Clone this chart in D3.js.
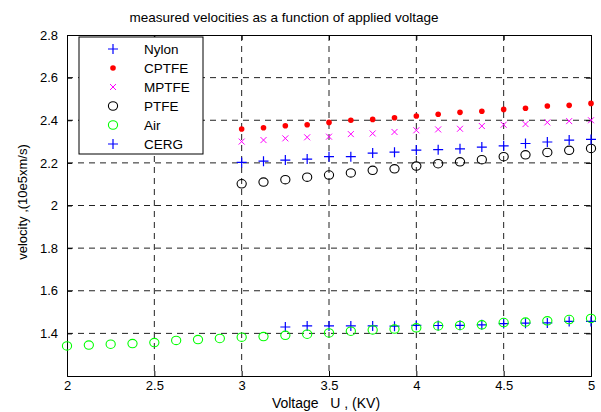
<!DOCTYPE html>
<html>
<head>
<meta charset="utf-8">
<script src="https://cdn.jsdelivr.net/npm/d3@7"></script>
<style>
  body { margin: 0; background: #fff; }
  svg text { font-family: "Liberation Sans", Arial, sans-serif; }
</style>
</head>
<body>
<div id="chart"></div>
<script>
// measured velocities vs applied voltage

var voltsLow = [2, 2.125, 2.25, 2.375, 2.5, 2.625, 2.75, 2.875, 3, 3.125, 3.25, 3.375, 3.5,
                3.625, 3.75, 3.875, 4, 4.125, 4.25, 4.375, 4.5, 4.625, 4.75, 4.875, 5];
var volts = [3, 3.125, 3.25, 3.375, 3.5, 3.625, 3.75, 3.875, 4, 4.125, 4.25, 4.375, 4.5,
             4.625, 4.75, 4.875, 5];
var voltsCerg = [3.25, 3.375, 3.5, 3.625, 3.75, 3.875, 4, 4.125, 4.25, 4.375, 4.5,
                 4.625, 4.75, 4.875, 5];

var nylon = [2.202, 2.208, 2.213, 2.218, 2.229, 2.229, 2.246, 2.25, 2.26, 2.262, 2.266,
             2.274, 2.28, 2.291, 2.298, 2.307, 2.31];
var cptfe = [2.359, 2.365, 2.374, 2.379, 2.39, 2.40, 2.404, 2.412, 2.42, 2.428, 2.437,
             2.442, 2.451, 2.456, 2.467, 2.47, 2.479];
var mptfe = [2.30, 2.307, 2.315, 2.32, 2.323, 2.335, 2.338, 2.345, 2.353, 2.357, 2.36,
             2.373, 2.379, 2.382, 2.39, 2.396, 2.40];
var ptfe = [2.102, 2.11, 2.121, 2.133, 2.143, 2.153, 2.165, 2.172, 2.185, 2.196, 2.205,
            2.215, 2.229, 2.238, 2.249, 2.259, 2.268];
var air = [1.341, 1.345, 1.349, 1.352, 1.357, 1.367, 1.371, 1.376, 1.382, 1.385, 1.391,
           1.396, 1.402, 1.41, 1.416, 1.42, 1.426, 1.435, 1.437, 1.44, 1.451, 1.453,
           1.459, 1.465, 1.47];
var cerg = [1.43, 1.435, 1.435, 1.435, 1.435, 1.434, 1.438, 1.437, 1.438, 1.44, 1.446,
            1.448, 1.449, 1.456, 1.456];

var xTicks = [2, 2.5, 3, 3.5, 4, 4.5, 5];
var yTicks = [1.4, 1.6, 1.8, 2, 2.2, 2.4, 2.6, 2.8];

var series = [
  {name: "Nylon", x: volts, y: nylon, mark: "plus", color: "#0000ff"},
  {name: "CPTFE", x: volts, y: cptfe, mark: "dot", color: "#ff0000"},
  {name: "MPTFE", x: volts, y: mptfe, mark: "cross", color: "#ff00ff"},
  {name: "PTFE", x: volts, y: ptfe, mark: "circle", color: "#000000"},
  {name: "Air", x: voltsLow, y: air, mark: "circle", color: "#00ff00"},
  {name: "CERG", x: voltsCerg, y: cerg, mark: "plus", color: "#0000ff"}
];

var width = 601, height = 412;
var margin = {left: 67, right: 10, top: 35, bottom: 36};
var pw = width - margin.left - margin.right;
var ph = height - margin.top - margin.bottom;

var x = d3.scaleLinear().domain([2, 5]).range([0, pw]);
var y = d3.scaleLinear().domain([1.2, 2.8]).range([ph, 0]);

var svg = d3.select("#chart").append("svg")
    .attr("width", width)
    .attr("height", height);

var g = svg.append("g")
    .attr("transform", "translate(" + margin.left + "," + margin.top + ")");

// grid
g.append("g").selectAll("line")
  .data(xTicks.slice(1, -1))
  .enter().append("line")
    .attr("x1", function(d) { return x(d); })
    .attr("x2", function(d) { return x(d); })
    .attr("y1", 0).attr("y2", ph)
    .attr("stroke", "#222").attr("stroke-dasharray", "6,5");

g.append("g").selectAll("line")
  .data(yTicks.slice(0, -1))
  .enter().append("line")
    .attr("y1", function(d) { return y(d); })
    .attr("y2", function(d) { return y(d); })
    .attr("x1", 0).attr("x2", pw)
    .attr("stroke", "#222").attr("stroke-dasharray", "6,5");

// axes, ticks inside
g.append("g")
    .attr("transform", "translate(0," + ph + ")")
    .call(d3.axisBottom(x).tickValues(xTicks).tickSize(-5).tickPadding(5)
      .tickFormat(d3.format("")));
g.append("g")
    .call(d3.axisLeft(y).tickValues(yTicks).tickSize(-5).tickPadding(9)
      .tickFormat(d3.format("")));
g.append("g")
    .call(d3.axisTop(x).tickValues(xTicks).tickSize(-5).tickFormat(""));
g.append("g")
    .attr("transform", "translate(" + pw + ",0)")
    .call(d3.axisRight(y).tickValues(yTicks).tickSize(-5).tickFormat(""));

svg.selectAll(".domain").attr("stroke", "#000");
svg.selectAll(".tick line").attr("stroke", "#000");
svg.selectAll(".tick text").attr("font-size", 13).attr("fill", "#000")
    .attr("font-family", "'Liberation Sans', Arial, sans-serif");

// markers
function drawMark(sel, mark, color) {
  if (mark === "plus") {
    sel.append("path").attr("d", "M-5,0H5M0,-5V5")
      .attr("stroke", color).attr("stroke-width", 1.2).attr("fill", "none");
  } else if (mark === "cross") {
    sel.append("path").attr("d", "M-3,-3L3,3M-3,3L3,-3")
      .attr("stroke", color).attr("stroke-width", 1).attr("fill", "none");
  } else if (mark === "dot") {
    sel.append("circle").attr("r", 2.8).attr("fill", color);
  } else {
    sel.append("ellipse").attr("rx", 4.6).attr("ry", 4.2)
      .attr("stroke", color).attr("stroke-width", 1.1).attr("fill", "none");
  }
}

// draw back-to-front so legend order layers like the source
series.slice().reverse().forEach(function(s) {
  var pts = g.append("g").selectAll("g")
    .data(s.y.map(function(v, i) { return [s.x[i], v]; }))
    .enter().append("g")
      .attr("transform", function(d) { return "translate(" + x(d[0]) + "," + y(d[1]) + ")"; });
  drawMark(pts, s.mark, s.color);
});

// legend
var leg = svg.append("g").attr("transform", "translate(79,37)");
leg.append("rect").attr("width", 124).attr("height", 117)
    .attr("fill", "#fff").attr("stroke", "#000");
series.forEach(function(s, i) {
  var row = leg.append("g").attr("transform", "translate(0," + (12 + i * 19) + ")");
  drawMark(row.append("g").attr("transform", "translate(34,0)"), s.mark, s.color);
  row.append("text").attr("x", 65).attr("y", 5)
    .attr("font-size", 13.5).text(s.name);
});

// labels
svg.append("text").attr("x", 284).attr("y", 22).attr("text-anchor", "middle")
    .attr("font-size", 13.5).text("measured velocities as a function of applied voltage");
svg.append("text").attr("x", 326).attr("y", 408).attr("text-anchor", "middle")
    .attr("font-size", 14).style("white-space", "pre")
    .text("Voltage   U , (KV)");
svg.append("text")
    .attr("transform", "translate(27,202) rotate(-90)")
    .attr("text-anchor", "middle").attr("font-size", 13)
    .text("velocity ,(10e5xm/s)");
</script>
</body>
</html>
